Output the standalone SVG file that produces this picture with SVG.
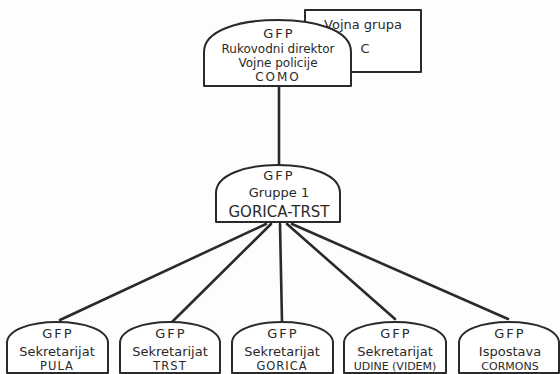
<svg xmlns="http://www.w3.org/2000/svg" width="560" height="374" viewBox="0 0 560 374">
<style>
.shape{fill:#fff;stroke:#2a2a2a;stroke-width:2;stroke-linejoin:round}
.conn{stroke:#2a2a2a;stroke-width:2.6;stroke-linecap:round;fill:none}
text{font-family:"DejaVu Sans",sans-serif;fill:#2a2a2a;text-anchor:middle}
.t13{font-size:13px}
.t12{font-size:12px}
.gfp{font-size:13px;letter-spacing:2px}
.cap{font-size:11.5px;letter-spacing:1px}
</style>
<rect width="560" height="374" fill="#fdfdfd"/>
<g id="connectors">
<line class="conn" x1="279" y1="86" x2="279" y2="165"/>
<line class="conn" x1="266" y1="224" x2="60" y2="320"/>
<line class="conn" x1="271" y1="224" x2="172" y2="322"/>
<line class="conn" x1="280" y1="224" x2="282" y2="322"/>
<line class="conn" x1="287" y1="224" x2="395" y2="319"/>
<line class="conn" x1="292" y1="224" x2="508" y2="319"/>
</g>
<g id="vojna-grupa">
<rect class="shape" x="305" y="10" width="116" height="62"/>
<text class="t13" x="363" y="29">Vojna grupa</text>
<text class="t13" x="365" y="53">C</text>
</g>
<g id="como">
<path class="shape" d="M204,86 V52 C204,30 240,20 278,20 C316,20 351,30 351,52 V86 Z"/>
<text class="gfp" x="279" y="38">GFP</text>
<text class="t12" x="278" y="53">Rukovodni direktor</text>
<text class="t12" x="278" y="67">Vojne policije</text>
<text class="t12" x="278" y="81" style="letter-spacing:2px">COMO</text>
</g>
<g id="gorica-trst">
<path class="shape" d="M216,222 V193 C216,175 245,165 278,165 C311,165 340,175 340,193 V222 Z"/>
<text class="gfp" x="279" y="180">GFP</text>
<text class="t13" x="279" y="197">Gruppe 1</text>
<text x="279" y="217" style="font-size:15px">GORICA-TRST</text>
</g>
<g id="pula">
<path class="shape" d="M7,373 V343 C7,330 30,322 57,322 C84,322 108,330 108,343 V373 Z"/>
<text class="gfp" x="58" y="338">GFP</text>
<text class="t13" x="57" y="356">Sekretarijat</text>
<text class="cap" x="57" y="370">PULA</text>
</g>
<g id="trst">
<path class="shape" d="M120,373 V343 C120,330 143,322 170,322 C197,322 220,330 220,343 V373 Z"/>
<text class="gfp" x="171" y="338">GFP</text>
<text class="t13" x="170" y="356">Sekretarijat</text>
<text class="cap" x="170" y="370">TRST</text>
</g>
<g id="gorica">
<path class="shape" d="M232,373 V343 C232,330 255,322 282,322 C309,322 333,330 333,343 V373 Z"/>
<text class="gfp" x="283" y="338">GFP</text>
<text class="t13" x="282" y="356">Sekretarijat</text>
<text class="cap" x="282" y="370">GORICA</text>
</g>
<g id="udine">
<path class="shape" d="M344,373 V343 C344,330 368,322 395,322 C422,322 446,330 446,343 V373 Z"/>
<text class="gfp" x="396" y="338">GFP</text>
<text class="t13" x="395" y="356">Sekretarijat</text>
<text x="395" y="370" style="font-size:11px">UDINE (VIDEM)</text>
</g>
<g id="cormons">
<path class="shape" d="M459,373 V343 C459,330 482,322 509,322 C536,322 559,330 559,343 V373 Z"/>
<text class="gfp" x="510" y="338">GFP</text>
<text class="t13" x="510" y="356">Ispostava</text>
<text x="510" y="370" style="font-size:11px">CORMONS</text>
</g>
</svg>
